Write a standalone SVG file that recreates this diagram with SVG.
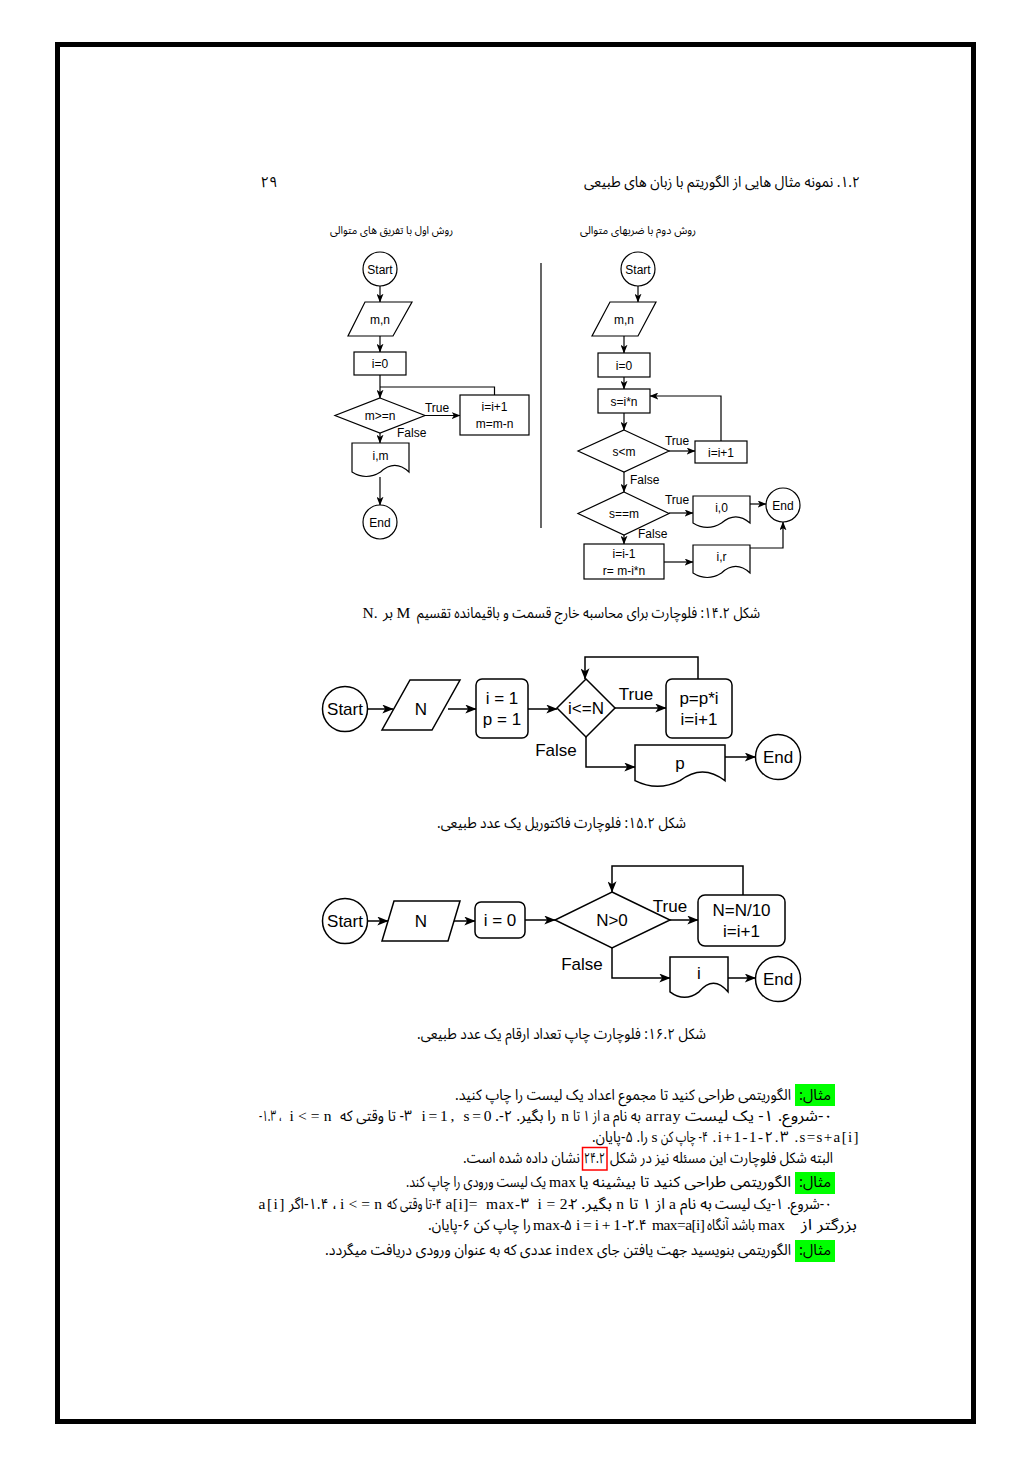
<svg xmlns="http://www.w3.org/2000/svg" width="1036" height="1466" viewBox="0 0 1036 1466">
<style>
.s1{fill:#fff;stroke:#000;stroke-width:1.2}
.s2{fill:#fff;stroke:#000;stroke-width:1.5}
.l1{fill:none;stroke:#000;stroke-width:1.2}
.l2{fill:none;stroke:#000;stroke-width:1.5}
.c1{fill:none;stroke:#000;stroke-width:1.2;marker-end:url(#a1)}
.c2{fill:none;stroke:#000;stroke-width:1.5;marker-end:url(#a2)}
.t1{font-family:"Liberation Sans",Arial,sans-serif;font-size:12px;text-anchor:middle;fill:#000}
.t1s{font-family:"Liberation Sans",Arial,sans-serif;font-size:12px;fill:#000}
.t2{font-family:"Liberation Sans",Arial,sans-serif;font-size:17px;text-anchor:middle;fill:#000}
.fa{font-family:"Noto Sans Arabic","Vazirmatn","DejaVu Sans",sans-serif;font-size:15px;direction:rtl;text-anchor:middle;fill:#000}
.fs{font-family:"Noto Sans Arabic","Vazirmatn","DejaVu Sans",sans-serif;font-size:11px;direction:rtl;text-anchor:middle;fill:#000}
.m{font-family:"Liberation Serif","Times New Roman",serif;font-size:15.5px;text-anchor:middle;fill:#000}
.o{font-family:"Liberation Serif","Noto Sans Arabic","DejaVu Sans",serif;font-size:15px;text-anchor:middle;direction:ltr;unicode-bidi:bidi-override;fill:#000}
.hl{fill:#00ff00}
</style>
<defs>
<marker id="a1" viewBox="0 0 10 8" refX="9.5" refY="4" markerWidth="9" markerHeight="7" markerUnits="userSpaceOnUse" orient="auto"><path d="M0,0 L10,4 L0,8 L2.5,4 Z" fill="#000"/></marker>
<marker id="a2" viewBox="0 0 10 8" refX="9.5" refY="4" markerWidth="12" markerHeight="9" markerUnits="userSpaceOnUse" orient="auto"><path d="M0,0 L10,4 L0,8 L2.5,4 Z" fill="#000"/></marker>
</defs>
<rect x="0" y="0" width="1036" height="1466" fill="#fff"/>
<rect x="57.5" y="44.5" width="916" height="1377" fill="none" stroke="#000" stroke-width="5"/>

<g id="header">
<text class="fa" x="269" y="187">۲۹</text>
<text class="fa" x="722" y="187" textLength="276" lengthAdjust="spacingAndGlyphs">۱.۲.  نمونه مثال هایی از الگوریتم با زبان های طبیعی</text>
<text class="fs" x="391.5" y="234" textLength="123" lengthAdjust="spacingAndGlyphs">روش اول با تفریق های متوالی</text>
<text class="fs" x="638" y="234" textLength="116" lengthAdjust="spacingAndGlyphs">روش دوم با ضربهای متوالی</text>
</g>

<g id="fig1-connectors">
<line class="c1" x1="380" y1="286" x2="380" y2="302"/>
<line class="c1" x1="380" y1="336" x2="380" y2="352"/>
<line class="c1" x1="380" y1="375" x2="380" y2="398"/>
<polyline class="l1" points="494.5,395 494.5,387 380,387"/>
<line class="c1" x1="425" y1="415.5" x2="460" y2="415.5"/>
<line class="c1" x1="380" y1="433" x2="380" y2="443"/>
<line class="c1" x1="380" y1="477" x2="380" y2="505"/>
<line class="l1" x1="541" y1="263" x2="541" y2="528"/>
<line class="c1" x1="638" y1="286" x2="638" y2="302"/>
<line class="c1" x1="624" y1="336" x2="624" y2="353"/>
<line class="c1" x1="624" y1="377" x2="624" y2="389"/>
<line class="c1" x1="624" y1="413" x2="624" y2="430"/>
<line class="c1" x1="669" y1="451" x2="695" y2="451"/>
<polyline class="c1" points="721,441 721,396 650,396"/>
<line class="c1" x1="624" y1="472" x2="624" y2="492"/>
<line class="c1" x1="669" y1="513" x2="693" y2="513"/>
<line class="c1" x1="750" y1="504" x2="766" y2="504"/>
<line class="c1" x1="624" y1="535" x2="624" y2="544"/>
<line class="c1" x1="664" y1="562" x2="693" y2="562"/>
<polyline class="c1" points="750,548 783,548 783,522"/>
</g>
<g id="fig1-labels">
<text class="t1" x="437" y="412">True</text>
<text class="t1s" x="397" y="437">False</text>
<text class="t1" x="677" y="445">True</text>
<text class="t1s" x="630" y="484">False</text>
<text class="t1" x="677" y="504">True</text>
<text class="t1s" x="638" y="538">False</text>
</g>
<g id="f1-start"><circle class="s1" cx="380" cy="269" r="17"/><text class="t1" x="380" y="273.5">Start</text></g>
<g id="f1-input"><polygon class="s1" points="365,302 412,302 393,336 348,336"/><text class="t1" x="380" y="323.5">m,n</text></g>
<g id="f1-init"><rect class="s1" x="354" y="352" width="52" height="23"/><text class="t1" x="380" y="368">i=0</text></g>
<g id="f1-cond"><polygon class="s1" points="380,398 425,415.5 380,433 335,415.5"/><text class="t1" x="380" y="420">m&gt;=n</text></g>
<g id="f1-body"><rect class="s1" x="460" y="395" width="69" height="40"/><text class="t1" x="494.5" y="411">i=i+1</text><text class="t1" x="494.5" y="428">m=m-n</text></g>
<g id="f1-out"><path class="s1" d="M352,443 H409 V472 Q394.75,458.7 380.5,472 Q366.25,481 352,472 Z"/><text class="t1" x="380.5" y="460">i,m</text></g>
<g id="f1-end"><circle class="s1" cx="380" cy="522" r="17"/><text class="t1" x="380" y="526.5">End</text></g>

<g id="f1b-start"><circle class="s1" cx="638" cy="269" r="17"/><text class="t1" x="638" y="273.5">Start</text></g>
<g id="f1b-input"><polygon class="s1" points="610,302 656,302 638,336 592,336"/><text class="t1" x="624" y="323.5">m,n</text></g>
<g id="f1b-init"><rect class="s1" x="598" y="353" width="52" height="24"/><text class="t1" x="624" y="369.5">i=0</text></g>
<g id="f1b-s"><rect class="s1" x="598" y="389" width="52" height="24"/><text class="t1" x="624" y="405.5">s=i*n</text></g>
<g id="f1b-cond1"><polygon class="s1" points="624,430 669,451 624,472 578,451"/><text class="t1" x="624" y="455.5">s&lt;m</text></g>
<g id="f1b-inc"><rect class="s1" x="695" y="441" width="52" height="22"/><text class="t1" x="721" y="456.5">i=i+1</text></g>
<g id="f1b-cond2"><polygon class="s1" points="624,492 669,513.5 624,535 578,513.5"/><text class="t1" x="624" y="518">s==m</text></g>
<g id="f1b-out1"><path class="s1" d="M693,496 H750 V523 Q735.75,510.6 721.5,523 Q707.25,531.8 693,523 Z"/><text class="t1" x="721.5" y="512">i,0</text></g>
<g id="f1b-end"><circle class="s1" cx="783" cy="505" r="17"/><text class="t1" x="783" y="509.5">End</text></g>
<g id="f1b-dec"><rect class="s1" x="584" y="544" width="80" height="35"/><text class="t1" x="624" y="558">i=i-1</text><text class="t1" x="624" y="575">r= m-i*n</text></g>
<g id="f1b-out2"><path class="s1" d="M693,545 H750 V573 Q735.75,559.9 721.5,573 Q707.25,582 693,573 Z"/><text class="t1" x="721.5" y="561">i,r</text></g>

<g id="caption1">
<text class="fa" x="588.5" y="618" textLength="343" lengthAdjust="spacingAndGlyphs">شکل ۱۴.۲: فلوچارت برای محاسبه خارج قسمت و باقیمانده تقسیم</text>
<text class="m" x="403.5" y="618">M</text>
<text class="fa" x="388" y="618">بر</text>
<text class="m" x="370" y="618">N.</text>
</g>

<g id="fig2-connectors">
<line class="c2" x1="367.5" y1="709" x2="393" y2="709"/>
<line class="c2" x1="448" y1="709" x2="476" y2="709"/>
<line class="c2" x1="528" y1="709" x2="557" y2="709"/>
<line class="c2" x1="615" y1="708" x2="666" y2="708"/>
<polyline class="c2" points="698,679 698,657 585,657 585,679"/>
<polyline class="c2" points="586,737 586,767 635,767"/>
<line class="c2" x1="725" y1="757" x2="755.5" y2="757"/>
</g>
<g id="fig2-labels">
<text class="t2" x="636" y="700">True</text>
<text class="t2" x="556" y="756">False</text>
</g>
<g id="f2-start"><circle class="s2" cx="345" cy="709" r="22.5"/><text class="t2" x="345" y="715">Start</text></g>
<g id="f2-input"><polygon class="s2" points="410,680 460,680 432,730 382,730"/><text class="t2" x="421" y="715">N</text></g>
<g id="f2-init"><rect class="s2" x="476" y="679" width="52" height="59" rx="6"/><text class="t2" x="502" y="704">i = 1</text><text class="t2" x="502" y="725">p = 1</text></g>
<g id="f2-cond"><polygon class="s2" points="586,679 615,708 586,737 557,708"/><text class="t2" x="586" y="714">i&lt;=N</text></g>
<g id="f2-body"><rect class="s2" x="666" y="679" width="66" height="59" rx="6"/><text class="t2" x="699" y="704">p=p*i</text><text class="t2" x="699" y="725">i=i+1</text></g>
<g id="f2-out"><path class="s2" d="M635,745 H725 V780.7 Q702.5,763.1 680,780.7 Q657.5,792 635,780.7 Z"/><text class="t2" x="680" y="769">p</text></g>
<g id="f2-end"><circle class="s2" cx="778" cy="757" r="22.5"/><text class="t2" x="778" y="763">End</text></g>

<g id="caption2">
<text class="fa" x="561.5" y="828" textLength="249" lengthAdjust="spacingAndGlyphs">شکل ۱۵.۲: فلوچارت فاکتوریل یک عدد طبیعی.</text>
</g>

<g id="fig3-connectors">
<line class="c2" x1="367.5" y1="921" x2="388" y2="921"/>
<line class="c2" x1="454" y1="921" x2="475" y2="921"/>
<line class="c2" x1="525" y1="920" x2="555" y2="920"/>
<line class="c2" x1="670" y1="920" x2="698" y2="920"/>
<polyline class="c2" points="743,895 743,866 612,866 612,892"/>
<polyline class="c2" points="612,948 612,978 670,978"/>
<line class="c2" x1="728" y1="978" x2="755.5" y2="978"/>
</g>
<g id="fig3-labels">
<text class="t2" x="670" y="912">True</text>
<text class="t2" x="582" y="970">False</text>
</g>
<g id="f3-start"><circle class="s2" cx="345" cy="921" r="22.5"/><text class="t2" x="345" y="927">Start</text></g>
<g id="f3-input"><polygon class="s2" points="394,901 460,901 448,941 382,941"/><text class="t2" x="421" y="927">N</text></g>
<g id="f3-init"><rect class="s2" x="475" y="902" width="50" height="36" rx="6"/><text class="t2" x="500" y="926">i = 0</text></g>
<g id="f3-cond"><polygon class="s2" points="612,892 670,920 612,948 555,920"/><text class="t2" x="612" y="926">N&gt;0</text></g>
<g id="f3-body"><rect class="s2" x="698" y="895" width="87" height="51" rx="7"/><text class="t2" x="741.5" y="916">N=N/10</text><text class="t2" x="741.5" y="937">i=i+1</text></g>
<g id="f3-out"><path class="s2" d="M670,957 H728 V991.8 Q713.5,974.6 699,991.8 Q684.5,1002.9 670,991.8 Z"/><text class="t2" x="699" y="979">i</text></g>
<g id="f3-end"><circle class="s2" cx="778" cy="979" r="22.5"/><text class="t2" x="778" y="985">End</text></g>

<g id="caption3">
<text class="fa" x="561.5" y="1039" textLength="289" lengthAdjust="spacingAndGlyphs">شکل ۱۶.۲: فلوچارت چاپ تعداد ارقام یک عدد طبیعی.</text>
</g>

<g id="body-text">
<rect class="hl" x="795" y="1084" width="40" height="22"/>
<text class="fa" x="815" y="1100" textLength="32" lengthAdjust="spacingAndGlyphs">مثال:</text>
<text class="fa" x="623" y="1100" textLength="336" lengthAdjust="spacingAndGlyphs">الگوریتمی طراحی کنید تا مجموع اعداد یک لیست را چاپ کنید.</text>

<text class="fa" x="270.5" y="1121" textLength="23" lengthAdjust="spacingAndGlyphs">، ۱.۳-</text>
<text class="m" x="310.5" y="1121" textLength="42" lengthAdjust="spacing">i&lt;=n</text>
<text class="fa" x="376" y="1121" textLength="72" lengthAdjust="spacingAndGlyphs">۳- تا وقتی که</text>
<text class="m" x="456.5" y="1121" textLength="70" lengthAdjust="spacing">i=1, s=0</text>
<text class="fa" x="525.5" y="1121" textLength="61" lengthAdjust="spacingAndGlyphs">را بگیر. ۲-.</text>
<text class="m" x="565" y="1121">n</text>
<text class="fa" x="586.5" y="1121" textLength="27" lengthAdjust="spacingAndGlyphs">از ۱ تا</text>
<text class="m" x="606.5" y="1121">a</text>
<text class="fa" x="627" y="1121" textLength="28" lengthAdjust="spacingAndGlyphs">به نام</text>
<text class="m" x="663" y="1121" textLength="35" lengthAdjust="spacing">array</text>
<text class="fa" x="759" y="1121" textLength="148" lengthAdjust="spacingAndGlyphs">۰-شروع. ۱- یک لیست</text>

<text class="fa" x="620" y="1142" textLength="56" lengthAdjust="spacingAndGlyphs">را. ۵-پایان.</text>
<text class="m" x="654.5" y="1142">s</text>
<text class="fa" x="684.5" y="1142" textLength="47" lengthAdjust="spacingAndGlyphs">۴- چاپ کن</text>
<text class="o" x="750.5" y="1142" textLength="76" lengthAdjust="spacing">.i+1-1-۲.۳</text>
<text class="o" x="826.5" y="1142" textLength="64" lengthAdjust="spacing">.s=s+a[i]</text>

<text class="fa" x="521.5" y="1163" textLength="117" lengthAdjust="spacingAndGlyphs">نشان داده شده است.</text>
<rect x="582.5" y="1147.5" width="24.5" height="22.5" fill="none" stroke="#ff0000" stroke-width="1.5"/>
<text class="o" x="594.5" y="1163" style="font-family:'Noto Sans Arabic','DejaVu Sans',sans-serif;font-size:15px" textLength="21" lengthAdjust="spacingAndGlyphs">۲۴.۲</text>
<text class="fa" x="721.5" y="1163" textLength="223" lengthAdjust="spacingAndGlyphs">البته شکل فلوچارت این مسئله نیز در شکل</text>

<rect class="hl" x="795" y="1172" width="40" height="22"/>
<text class="fa" x="815" y="1187" textLength="32" lengthAdjust="spacingAndGlyphs">مثال:</text>
<text class="fa" x="685" y="1187" textLength="212" lengthAdjust="spacingAndGlyphs">الگوریتمی طراحی کنید تا بیشینه یا</text>
<text class="m" x="562.5" y="1187" textLength="27" lengthAdjust="spacing">max</text>
<text class="fa" x="476" y="1187" textLength="140" lengthAdjust="spacingAndGlyphs">یک لیست ورودی را چاپ کند.</text>

<text class="m" x="271.5" y="1209" textLength="26" lengthAdjust="spacing">a[i]</text>
<text class="fa" x="313" y="1209" textLength="48" lengthAdjust="spacingAndGlyphs">، ۱.۴-اگر</text>
<text class="m" x="361" y="1209" textLength="42" lengthAdjust="spacing">i&lt;=n</text>
<text class="fa" x="414.5" y="1209" textLength="55" lengthAdjust="spacingAndGlyphs">۴-تا وقتی که</text>
<text class="m" x="461.5" y="1209" textLength="32" lengthAdjust="spacing">a[i]=</text>
<text class="m" x="500" y="1209" textLength="28" lengthAdjust="spacing">max</text>
<text class="o" x="522" y="1209" textLength="14" lengthAdjust="spacing">-۳</text>
<text class="m" x="552.5" y="1209" textLength="30" lengthAdjust="spacing">i=2</text>
<text class="o" x="573" y="1209" textLength="10" lengthAdjust="spacing">-۲</text>
<text class="fa" x="596.5" y="1209" textLength="31" lengthAdjust="spacingAndGlyphs">بگیر.</text>
<text class="m" x="620" y="1209">n</text>
<text class="fa" x="647" y="1209" textLength="36" lengthAdjust="spacingAndGlyphs">از ۱ تا</text>
<text class="m" x="672.5" y="1209">a</text>
<text class="fa" x="696" y="1209" textLength="32" lengthAdjust="spacingAndGlyphs">به نام</text>
<text class="fa" x="773.5" y="1209" textLength="117" lengthAdjust="spacingAndGlyphs">۰-شروع. ۱-یک لیست</text>

<text class="fa" x="479.5" y="1230" textLength="103" lengthAdjust="spacingAndGlyphs">را چاپ کن ۶-پایان.</text>
<text class="m" x="546.5" y="1230" textLength="27" lengthAdjust="spacing">max</text>
<text class="o" x="566" y="1230" textLength="12" lengthAdjust="spacing">-۵</text>
<text class="m" x="598.5" y="1230" textLength="45" lengthAdjust="spacing">i=i+1</text>
<text class="o" x="634.5" y="1230" textLength="25" lengthAdjust="spacing">-۲.۴</text>
<text class="m" x="678.5" y="1230" textLength="53" lengthAdjust="spacing">max=a[i]</text>
<text class="fa" x="731" y="1230" textLength="48" lengthAdjust="spacingAndGlyphs">باشد آنگاه</text>
<text class="m" x="771.5" y="1230" textLength="27" lengthAdjust="spacing">max</text>
<text class="fa" x="829" y="1230" textLength="56" lengthAdjust="spacingAndGlyphs">بزرگتر از</text>

<rect class="hl" x="795" y="1240" width="40" height="22"/>
<text class="fa" x="815" y="1255" textLength="32" lengthAdjust="spacingAndGlyphs">مثال:</text>
<text class="fa" x="694" y="1255" textLength="194" lengthAdjust="spacingAndGlyphs">الگوریتمی بنویسید جهت یافتن جای</text>
<text class="m" x="574.5" y="1255" textLength="38" lengthAdjust="spacing">index</text>
<text class="fa" x="438.5" y="1255" textLength="227" lengthAdjust="spacingAndGlyphs">عددی که به عنوان ورودی دریافت میگردد.</text>
</g>
</svg>
